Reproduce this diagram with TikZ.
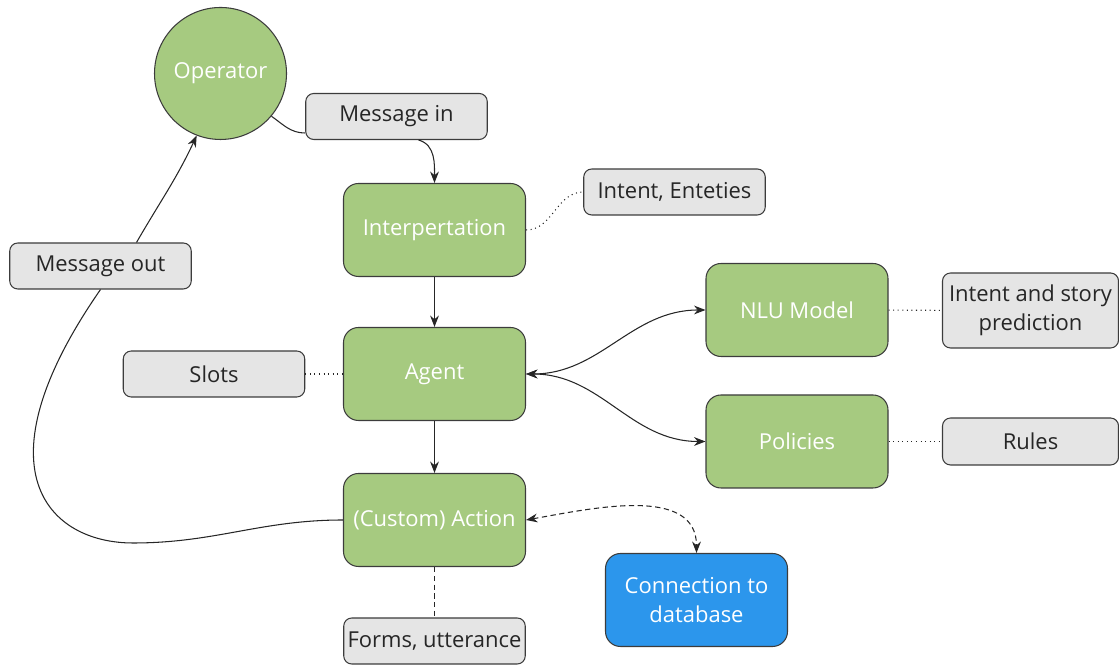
\documentclass[tikz,border=0pt]{standalone}
\usepackage{fontspec}
\setmainfont{Open Sans}
\usetikzlibrary{arrows.meta}

\definecolor{boxgreen}{RGB}{166,202,128}
\definecolor{boxblue}{RGB}{44,150,236}
\definecolor{boxgray}{RGB}{229,229,229}
\definecolor{edge}{RGB}{60,60,60}

\begin{document}
\begin{tikzpicture}[
  font=\fontsize{12.5}{16.5}\selectfont,
  greenbox/.style={draw=edge, line width=0.6pt, fill=boxgreen, text=white, rounded corners=0.3cm,
    minimum width=3.64cm, minimum height=1.86cm, inner sep=0pt, align=center},
  bluebox/.style={greenbox, fill=boxblue},
  graybox/.style={draw=edge, line width=0.6pt, fill=boxgray, text=black!85, rounded corners=0.16cm,
    minimum width=3.63cm, minimum height=0.92cm, inner sep=0pt, align=center},
  link/.style={line width=0.6pt, black!85, >={Stealth[length=6.5pt,width=5pt]}},
  dotlink/.style={link, dotted},
  dashlink/.style={link, dash pattern=on 3pt off 2pt},
]
	\useasboundingbox (0,0) rectangle (22.38,13.32);

	% left column
	\node (op) at (4.41,11.85)[circle, greenbox, minimum size=2.64cm]{Operator};
	\node (msgin) at (7.93,10.99)[graybox]{Message in};
	\node (msgout) at (2.01,8.00)[graybox]{Message out};
	\node (slots) at (4.28,5.84)[graybox]{Slots};

	% main flow
	\node (interp) at (8.69,8.72)[greenbox]{Interpertation};
	\node (intent) at (13.49,9.48)[graybox]{Intent, Enteties};
	\node (agent) at (8.69,5.84)[greenbox]{Agent};
	\node (action) at (8.69,2.92)[greenbox]{(Custom) Action};
	\node (forms) at (8.69,0.50)[graybox]{Forms, utterance};
	\node (db) at (13.93,1.32)[bluebox]{Connection to\\database};

	% right side
	\node (nlu) at (15.94,7.12)[greenbox]{NLU Model};
	\node (story) at (20.61,7.11)[graybox, minimum width=3.52cm, minimum height=1.5cm]{Intent and story\\prediction};
	\node (pol) at (15.94,4.49)[greenbox]{Policies};
	\node (rules) at (20.61,4.49)[graybox, minimum width=3.52cm, minimum height=0.94cm]{Rules};

	% connectors
	\draw[link] (op.-40) to[out=-35,in=180] ([yshift=0.14cm]msgin.south west);
	\draw[link,->] ([xshift=0.44cm]msgin.south) to[out=-15,in=90] (interp.north);
	\draw[link,->] (interp) -- (agent);
	\draw[link,->] (agent) -- (action);
	\draw[dotlink] (interp.east) to[out=0,in=180] (intent.west);
	\draw[dotlink] (slots) -- (agent);
	\draw[dotlink] (nlu) -- (story);
	\draw[dotlink] (pol) -- (rules);
	\draw[link,<->] (agent.east) to[out=0,in=180] (nlu.west);
	\draw[link,<->] (agent.east) to[out=0,in=180] (pol.west);
	\draw[dashlink,<->] (action.east) to[out=10,in=90] (db.north);
	\draw[dashlink] (action) -- (forms);

	% way back to the operator
	\coordinate (loop) at (2.66,2.46);
	\draw[link] (action.west) to[out=180,in=0] (loop) .. controls +(-1.7,0) and +(-2.5,-3.6) .. (msgout.south);
	\draw[link,->] ([xshift=0.72cm]msgout.north) to[out=60,in=-115] (op.249);
\end{tikzpicture}
\end{document}
